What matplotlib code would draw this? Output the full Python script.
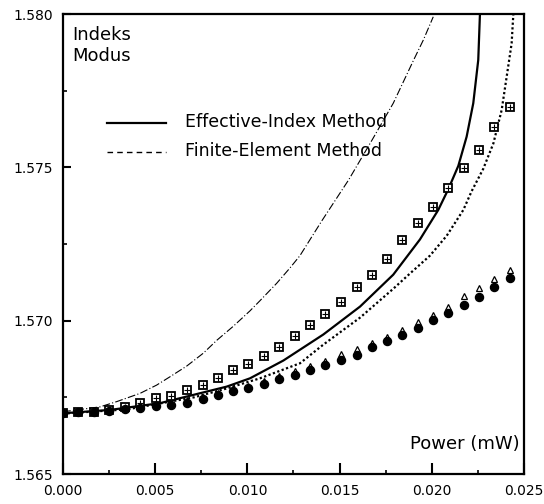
"""
Mode index vs power: effective-index and finite-element curves with measured points.
"""
import matplotlib
matplotlib.use("Agg")
import matplotlib.pyplot as plt

# power (mW) of the marker series
power = [0.0, 0.00083, 0.00167, 0.0025, 0.00335, 0.0042, 0.00505, 0.00588, 0.00675, 0.00758,
         0.00842, 0.00922, 0.01005, 0.0109, 0.01173, 0.01257, 0.0134, 0.01422, 0.01508, 0.01592,
         0.01677, 0.01755, 0.01838, 0.01923, 0.02007, 0.0209, 0.02175, 0.02255, 0.0234, 0.02425]

# crossed squares
idx_squares = [1.56700, 1.56701, 1.56703, 1.56710, 1.56720, 1.56733, 1.56747, 1.56754, 1.56775, 1.56790,
               1.56814, 1.56838, 1.56860, 1.56885, 1.56914, 1.56950, 1.56985, 1.57021, 1.57061, 1.57110,
               1.57150, 1.57200, 1.57263, 1.57318, 1.57372, 1.57432, 1.57497, 1.57557, 1.57631, 1.57696]

# filled circles
idx_circles = [1.56700, 1.56701, 1.56702, 1.56705, 1.56711, 1.56715, 1.56722, 1.56724, 1.56733, 1.56744,
               1.56757, 1.56770, 1.56779, 1.56793, 1.56809, 1.56823, 1.56839, 1.56855, 1.56872, 1.56888,
               1.56913, 1.56935, 1.56953, 1.56977, 1.57002, 1.57026, 1.57051, 1.57078, 1.57111, 1.57140]

# open triangles (mostly hidden behind the circles)
idx_open = [1.56702, 1.56704, 1.56706, 1.56710, 1.56716, 1.56721, 1.56728, 1.56732, 1.56741, 1.56752,
            1.56765, 1.56779, 1.56788, 1.56803, 1.56820, 1.56835, 1.56852, 1.56868, 1.56890, 1.56908,
            1.56926, 1.56948, 1.56970, 1.56997, 1.57018, 1.57045, 1.57080, 1.57106, 1.57135, 1.57165]

# Effective-Index Method (solid)
eim_p = [0.0, 0.00255, 0.00526, 0.00707, 0.00888, 0.01014, 0.01195, 0.01412, 0.01611, 0.01791,
         0.01936, 0.02035, 0.02089, 0.02144, 0.02189, 0.02225, 0.02252, 0.02261]
eim_n = [1.56698, 1.56709, 1.56731, 1.56758, 1.56785, 1.56812, 1.56870, 1.56955, 1.57046, 1.57150,
         1.57265, 1.57361, 1.57428, 1.57505, 1.57600, 1.57709, 1.57850, 1.57997]

# Finite-Element Method (dotted)
fem_p = [0.0, 0.0035, 0.0071, 0.00888, 0.01068, 0.01285, 0.01412, 0.01611, 0.01791, 0.01882,
         0.0199, 0.02081, 0.02171, 0.02216, 0.02279, 0.02334, 0.02379, 0.02406, 0.02433, 0.02442]
fem_n = [1.56697, 1.56711, 1.56750, 1.56779, 1.56812, 1.56861, 1.56922, 1.57010, 1.57104, 1.57154,
         1.57212, 1.57277, 1.57361, 1.57422, 1.57495, 1.57578, 1.57687, 1.57795, 1.57904, 1.57997]

# thin dash-dot curve
dd_p = [0.0, 0.00201, 0.00291, 0.00418, 0.00508, 0.0058, 0.00671, 0.00761, 0.00834, 0.00924,
        0.01014, 0.01068, 0.01159, 0.01231, 0.01285, 0.01403, 0.01549, 0.01676, 0.01791, 0.019,
        0.01954, 0.02008]
dd_n = [1.56703, 1.56719, 1.56736, 1.56763, 1.56790, 1.56817, 1.56852, 1.56894, 1.56936, 1.56982,
        1.57032, 1.57065, 1.57122, 1.57172, 1.57212, 1.57325, 1.57459, 1.57589, 1.57709, 1.57848,
        1.57915, 1.57991]

plt.rcParams["font.family"] = ["DejaVu Sans"]

fig = plt.figure(figsize=(5.44, 5.04), dpi=100)
ax = fig.add_axes([0.1158, 0.0595, 0.8474, 0.9127])

ax.plot(dd_p, dd_n, color="black", linewidth=0.8, dashes=(7, 2, 1, 2))
ax.plot(eim_p, eim_n, color="black", linewidth=1.6, solid_joinstyle="round")
ax.plot(fem_p, fem_n, color="black", linewidth=1.6, linestyle=(0, (1, 1.1)))

ax.plot(power, idx_squares, linestyle="none", marker="s", ms=5.5, mfc="white", mec="black", mew=1.3)
ax.plot(power, idx_squares, linestyle="none", marker="+", ms=5, mec="black", mew=0.8)
ax.plot(power, idx_open, linestyle="none", marker="^", ms=5, mfc="white", mec="black", mew=0.9)
ax.plot(power, idx_circles, linestyle="none", marker="o", ms=5.8, mfc="black", mec="black")

# legend drawn by hand
ax.plot([0.0024, 0.0056], [1.57645, 1.57645], color="black", linewidth=1.6)
ax.plot([0.0024, 0.0056], [1.57550, 1.57550], color="black", linewidth=1.0, dashes=(4, 3))
ax.text(0.0066, 1.57648, "Effective-Index Method", fontsize=12.5, va="center", ha="left")
ax.text(0.0066, 1.57553, "Finite-Element Method", fontsize=12.5, va="center", ha="left")

ax.text(0.02, 0.975, "Indeks\nModus", transform=ax.transAxes, fontsize=13, va="top", ha="left",
        linespacing=1.25)
ax.text(0.99, 0.045, "Power (mW)", transform=ax.transAxes, fontsize=13, va="bottom", ha="right")

ax.set_xlim(0, 0.025)
ax.set_ylim(1.565, 1.580)
ax.set_xticks([0.0, 0.005, 0.010, 0.015, 0.020, 0.025])
ax.set_xticks([0.0025, 0.0075, 0.0125, 0.0175, 0.0225], minor=True)
ax.set_yticks([1.565, 1.570, 1.575, 1.580])
ax.set_yticks([1.5675, 1.5725, 1.5775], minor=True)
ax.set_xticklabels(["0.000", "0.005", "0.010", "0.015", "0.020", "0.025"])
ax.set_yticklabels(["1.565", "1.570", "1.575", "1.580"])
ax.tick_params(axis="x", which="major", direction="in", length=8, width=1.5, labelsize=10, pad=7)
ax.tick_params(axis="y", which="major", direction="in", length=6, width=1.5, labelsize=10, pad=7)
ax.tick_params(which="minor", direction="in", length=3, width=1.2)
for s in ax.spines.values():
    s.set_linewidth(1.6)

fig.savefig("out.png", dpi=100)
